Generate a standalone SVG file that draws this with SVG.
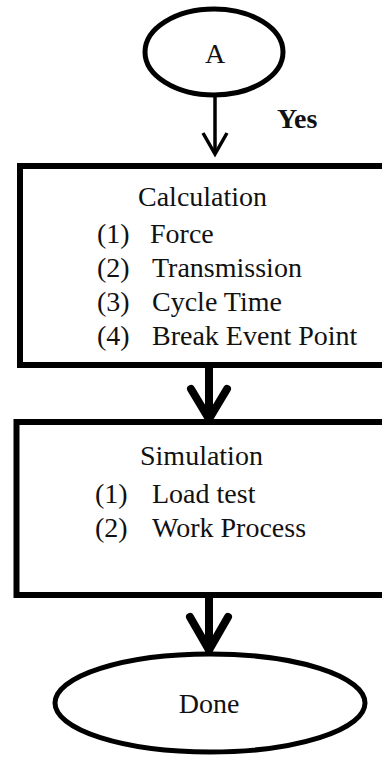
<svg xmlns="http://www.w3.org/2000/svg" width="382" height="757" viewBox="0 0 382 757">
<style>
  .shape { fill: #fff; stroke: #000; }
  .t { font-family: 'Liberation Serif', 'Tinos', 'Times New Roman', 'DejaVu Serif', serif; font-size: 28px; fill: #111; }
  .c { text-anchor: middle; }
  .thin { fill: none; stroke: #000; stroke-width: 3.5; }
  .thick { fill: none; stroke: #000; stroke-width: 8; stroke-linecap: round; stroke-linejoin: round; }
</style>
<rect width="382" height="757" fill="#fff"/>
<g id="connectors">
  <g id="edge-a-calc">
    <line class="thin" x1="215" y1="96" x2="215" y2="153"/>
    <polyline class="thin" points="203,133 215,154 227,133"/>
    <text class="t" x="277" y="128" font-weight="bold" font-family="Liberation Serif, serif">Yes</text>
  </g>
  <g id="edge-calc-sim">
    <line class="thick" x1="209" y1="366" x2="209" y2="418" stroke-linecap="butt"/>
    <polyline class="thick" points="191,389 209,419 227,389"/>
  </g>
  <g id="edge-sim-done">
    <line class="thick" x1="209" y1="596" x2="209" y2="650" stroke-linecap="butt"/>
    <polyline class="thick" points="190,617 209,650 228,617"/>
  </g>
</g>
<g id="node-a">
  <ellipse class="shape" cx="214" cy="52" rx="69" ry="43" stroke-width="5"/>
  <text class="t c" x="215" y="63" font-family="Liberation Serif, serif">A</text>
</g>
<g id="node-calculation">
  <rect class="shape" x="20" y="166" width="380" height="199" stroke-width="6"/>
  <text class="t" x="138" y="206">Calculation</text>
  <text class="t" x="97" y="243">(1)</text><text class="t" x="150" y="243">Force</text>
  <text class="t" x="97" y="277">(2)</text><text class="t" x="152" y="277">Transmission</text>
  <text class="t" x="97" y="311">(3)</text><text class="t" x="152" y="311">Cycle Time</text>
  <text class="t" x="97" y="345">(4)</text><text class="t" x="152" y="345">Break Event Point</text>
</g>
<g id="node-simulation">
  <rect class="shape" x="16.5" y="422" width="380" height="173" stroke-width="6"/>
  <text class="t" x="140" y="465">Simulation</text>
  <text class="t" x="95" y="503">(1)</text><text class="t" x="152" y="503">Load test</text>
  <text class="t" x="95" y="537">(2)</text><text class="t" x="152" y="537">Work Process</text>
</g>
<g id="node-done">
  <ellipse class="shape" cx="210" cy="703" rx="155" ry="49" stroke-width="5"/>
  <text class="t c" x="209" y="713">Done</text>
</g>
</svg>
